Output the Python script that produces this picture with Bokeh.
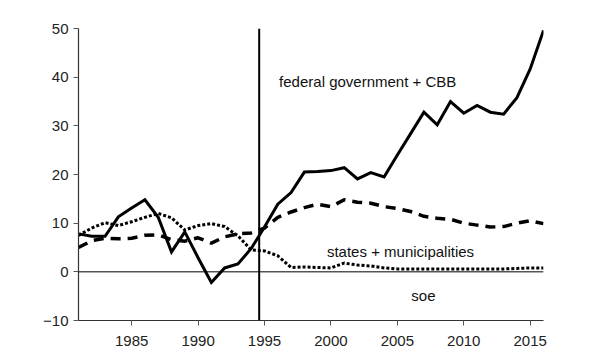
from bokeh.plotting import figure
from bokeh.models import Range1d, FixedTicker, Span, Label
from bokeh.embed import file_html
from bokeh.resources import INLINE

years = list(range(1981, 2017))

federal_cbb = [7.8, 7.3, 7.3, 11.3, 13.1, 14.8, 11.2, 4.1, 8.2, 2.9,
               -2.2, 0.8, 1.6, 4.8, 9.2, 13.9, 16.3, 20.5, 20.6, 20.8,
               21.4, 19.1, 20.4, 19.5, 24.0, 28.4, 32.8, 30.2, 35.0, 32.6,
               34.2, 32.8, 32.4, 35.8, 41.7, 49.6]

states_municipalities = [5.0, 6.4, 6.9, 6.8, 6.9, 7.5, 7.6, 6.6, 6.3, 7.0,
                         5.9, 7.2, 7.8, 8.0, 9.0, 11.2, 12.3, 13.2, 13.9, 13.4,
                         14.8, 14.3, 14.1, 13.4, 13.0, 12.4, 11.4, 11.0, 10.8, 10.0,
                         9.6, 9.2, 9.3, 10.0, 10.5, 9.9]

soe = [7.5, 9.0, 10.1, 9.5, 10.3, 11.2, 12.0, 11.1, 8.6, 9.5,
       9.9, 9.3, 7.4, 4.5, 4.3, 3.3, 0.9, 1.0, 0.9, 0.8,
       1.8, 1.4, 1.2, 0.8, 0.6, 0.6, 0.6, 0.6, 0.6, 0.6,
       0.6, 0.6, 0.6, 0.7, 0.8, 0.8]

x_ticks = [1985, 1990, 1995, 2000, 2005, 2010, 2015]
y_ticks = [-10, 0, 10, 20, 30, 40, 50]

break_year = 1994.6

labels = [
    ("federal government + CBB", 1996.1, 39.1),
    ("states + municipalities", 1999.7, 4.2),
    ("soe", 2006.05, -4.8),
]

FONT = "Liberation Sans"

p = figure(width=584, height=352, output_backend="svg", toolbar_location=None,
           x_range=Range1d(1981, 2016), y_range=Range1d(-10, 50),
           min_border_left=78, min_border_right=41, min_border_top=28,
           min_border_bottom=32)
p.outline_line_color = None
p.grid.visible = False
p.background_fill_color = "white"
p.border_fill_color = "white"

for ax in (p.xaxis[0], p.yaxis[0]):
    ax.axis_line_color = "#333333"
    ax.axis_line_width = 1.2
    ax.major_tick_line_color = "#555555"
    ax.major_tick_out = 5
    ax.major_tick_in = 0
    ax.minor_tick_line_color = None
    ax.major_label_text_font = FONT
    ax.major_label_text_font_size = "15px"
    ax.major_label_text_color = "#222222"

p.xaxis.ticker = FixedTicker(ticks=x_ticks)
p.yaxis.ticker = FixedTicker(ticks=y_ticks)
p.xaxis.major_label_standoff = 10
p.yaxis.major_label_standoff = 5

p.add_layout(Span(location=0, dimension="width", line_color="black", line_width=1))
p.add_layout(Span(location=break_year, dimension="height", line_color="black", line_width=2))

p.line(years, soe, line_color="black", line_width=3, line_dash="3 2")
p.line(years, states_municipalities, line_color="black", line_width=3.5, line_dash="10 7")
p.line(years, federal_cbb, line_color="black", line_width=3, line_join="miter")

for txt, x, y in labels:
    p.add_layout(Label(x=x, y=y, text=txt, text_font=FONT, text_font_size="15px",
                       text_color="#111111", text_baseline="middle", text_align="left"))

open("out.html", "w").write(file_html(p, INLINE))
